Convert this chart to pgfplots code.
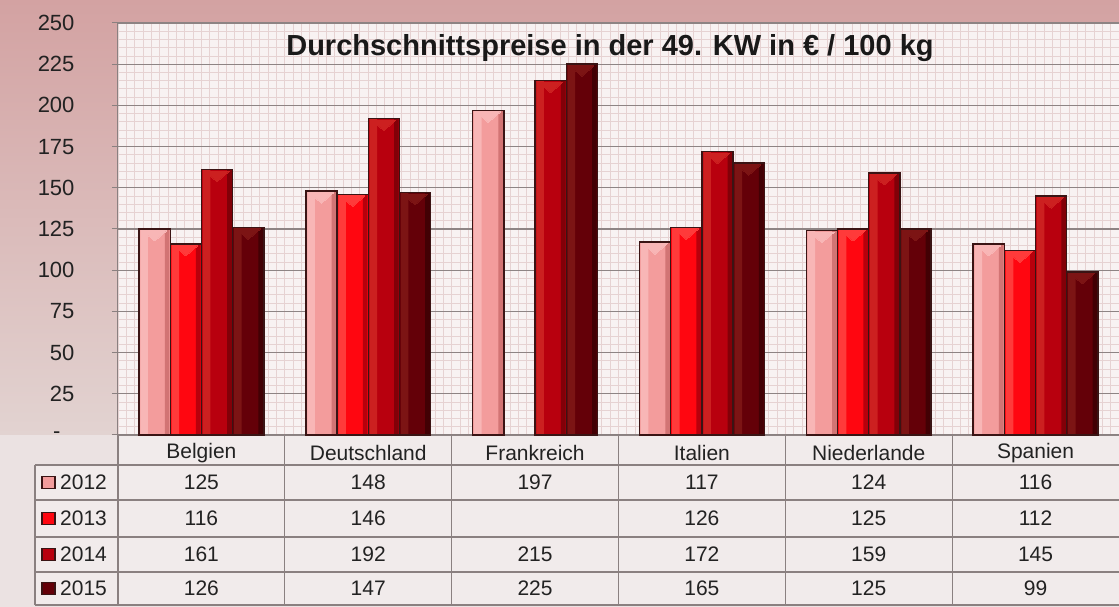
\documentclass[border=0pt]{standalone}
\usepackage{pgfplots}
\pgfplotsset{compat=1.18}
\usepackage{pgfplotstable}
\usepackage{fontspec}
\setmainfont{Liberation Sans}

\definecolor{bgtop}{HTML}{D3A2A2}
\definecolor{bgbot}{HTML}{E2D3D1}
\definecolor{lowbg}{HTML}{EBE2E2}
\definecolor{cellbg}{HTML}{F1EBEB}
\definecolor{plotbg}{HTML}{F8F2F2}
\definecolor{finegrid}{HTML}{E6D2D2}
\definecolor{gridmaj}{HTML}{8E8484}
\definecolor{axisgray}{HTML}{8A8080}
\definecolor{txt}{HTML}{222222}
\definecolor{outl}{HTML}{3A1414}
\definecolor{cA}{HTML}{F39C9C}
\definecolor{cAl}{HTML}{F8B6B6}
\definecolor{cAr}{HTML}{D27474}
\definecolor{cB}{HTML}{FF0610}
\definecolor{cBl}{HTML}{FF3A3A}
\definecolor{cBr}{HTML}{B8000C}
\definecolor{cC}{HTML}{B8000E}
\definecolor{cCl}{HTML}{CC2020}
\definecolor{cCr}{HTML}{820008}
\definecolor{cD}{HTML}{640008}
\definecolor{cDl}{HTML}{7C1414}
\definecolor{cDr}{HTML}{420004}

\newcommand\tabfont{\fontsize{21}{25}\selectfont}
\newcommand\tickfont{\fontsize{22}{26}\selectfont}

\pgfplotstableread{
x y12 y13 y14 y15
0 125 116 161 126
1 148 146 192 147
2 197 nan 215 225
3 117 126 172 165
4 124 125 159 125
5 116 112 145 99
}\datatable

\tikzset{
  tabline/.style={draw=axisgray, line width=1.2pt},
}

\begin{document}
\begin{tikzpicture}
\useasboundingbox (-118pt,-172pt) rectangle (1001pt,435pt);
% backgrounds
\shade[top color=bgtop, bottom color=bgbot] (-118pt,0pt) rectangle (1001pt,435pt);
\fill[lowbg] (-118pt,-172pt) rectangle (1001pt,0pt);
\fill[cellbg] (-83pt,-170pt) rectangle (1001pt,-30pt);
\fill[cellbg] (0pt,-30pt) rectangle (1001pt,0pt);
\fill[plotbg] (0pt,0pt) rectangle (1001pt,412pt);
\draw[finegrid, line width=0.9pt, xstep=8.342pt, ystep=8.24pt] (0pt,0pt) grid (1001pt,412pt);
% table lines
\foreach \yy in {-30,-65,-102,-137,-170} {\draw[tabline] (-83pt,\yy pt) -- (1001pt,\yy pt);}
\draw[tabline] (-83pt,-30pt) -- (-83pt,-170pt);
\foreach \k in {1,...,5} {\draw[tabline] (\k*166.833pt,0pt) -- (\k*166.833pt,-170pt);}
\draw[tabline] (0pt,0pt) -- (0pt,-170pt);
% legend in table
\foreach \c/\yr/\yy in {cA/2012/-47.5, cB/2013/-83.5, cC/2014/-119.5, cD/2015/-153.5} {
  \fill[\c, draw=outl, line width=1.2pt] (-76pt,\yy pt-6pt) rectangle (-63pt,\yy pt+6pt);
  \node[anchor=west, font=\tabfont, text=txt, inner sep=0pt] at (-58pt,\yy pt) {\yr};
}
\begin{axis}[
  at={(0pt,0pt)}, anchor=south west,
  scale only axis, width=1001pt, height=412pt,
  xmin=-0.5, xmax=5.5, ymin=0, ymax=250,
  clip=false,
  ytick={0,25,...,250},
  yticklabels={{-\kern14pt},25,50,75,100,125,150,175,200,225,250},
  yticklabel style={font=\tickfont, text=txt, anchor=east, xshift=-34pt},
  xtick={0,...,5},
  xticklabels={Belgien,Deutschland,Frankreich,Italien,Niederlande,Spanien},
  xticklabel style={font=\tabfont, text=txt, anchor=center, yshift=-12pt},
  xtick style={draw=none},
  ytick style={color=axisgray, line width=1pt},
  tick align=outside, major tick length=6pt,
  ymajorgrids, major grid style={color=gridmaj, line width=1.1pt},
  axis line style={color=axisgray, line width=1pt},
  axis x line*=bottom, axis y line*=left,
  /pgf/number format/assume math mode=true,
  bevel/.style={only marks, mark=triangle*, mark size=14pt,
    mark options={draw=#1, fill=#1, line width=0pt, yshift=-5pt, rotate=180, yscale=0.5}},
  body/.style={ybar, bar width=0.187, draw=none, fill=#1},
  strip/.style={ybar, draw=none, fill=#1},
  outline/.style={ybar, bar width=0.187, draw=outl, fill=none, line width=1.4pt},
]
% bar bodies
\addplot[body=cA, bar shift=-0.2805] table[x=x, y=y12] {\datatable};
\addplot[body=cB, bar shift=-0.0935] table[x=x, y=y13] {\datatable};
\addplot[body=cC, bar shift=0.0935] table[x=x, y=y14] {\datatable};
\addplot[body=cD, bar shift=0.2805] table[x=x, y=y15] {\datatable};
% light left strips
\addplot[strip=cAl, bar width=0.045, bar shift=-0.343] table[x=x, y=y12] {\datatable};
\addplot[strip=cBl, bar width=0.045, bar shift=-0.156] table[x=x, y=y13] {\datatable};
\addplot[strip=cCl, bar width=0.045, bar shift=0.031] table[x=x, y=y14] {\datatable};
\addplot[strip=cDl, bar width=0.045, bar shift=0.218] table[x=x, y=y15] {\datatable};
% dark right strips
\addplot[strip=cAr, bar width=0.028, bar shift=-0.2055] table[x=x, y=y12] {\datatable};
\addplot[strip=cBr, bar width=0.028, bar shift=-0.0185] table[x=x, y=y13] {\datatable};
\addplot[strip=cCr, bar width=0.028, bar shift=0.1685] table[x=x, y=y14] {\datatable};
\addplot[strip=cDr, bar width=0.028, bar shift=0.3555] table[x=x, y=y15] {\datatable};
% bevel highlights at the bar tops
\addplot[bevel=cAl] table[x expr=\thisrow{x}-0.2805, y=y12] {\datatable};
\addplot[bevel=cBl] table[x expr=\thisrow{x}-0.0935, y=y13] {\datatable};
\addplot[bevel=cCl] table[x expr=\thisrow{x}+0.0935, y=y14] {\datatable};
\addplot[bevel=cDl] table[x expr=\thisrow{x}+0.2805, y=y15] {\datatable};
% outlines
\addplot[outline, bar shift=-0.2805] table[x=x, y=y12] {\datatable};
\addplot[outline, bar shift=-0.0935] table[x=x, y=y13] {\datatable};
\addplot[outline, bar shift=0.0935] table[x=x, y=y14] {\datatable};
\addplot[outline, bar shift=0.2805] table[x=x, y=y15] {\datatable};
% data table rows
\pgfplotsset{tabrow/.style={draw=none, mark=none, point meta=explicit,
  nodes near coords={\pgfmathfloatifflags{\pgfplotspointmeta}{3}{}{\pgfmathprintnumber{\pgfplotspointmeta}}},
  nodes near coords style={anchor=center, font=\tabfont, text=txt, /pgf/number format/assume math mode=true}}}
\addplot[tabrow] table[x=x, y expr=-28.8, meta=y12] {\datatable};
\addplot[tabrow] table[x=x, y expr=-50.7, meta=y13] {\datatable};
\addplot[tabrow] table[x=x, y expr=-72.5, meta=y14] {\datatable};
\addplot[tabrow] table[x=x, y expr=-93.1, meta=y15] {\datatable};
\end{axis}
\node[font=\fontsize{29}{33}\selectfont\bfseries, text=black!90] at (492pt,387pt) {Durchschnittspreise in der 49. KW in € / 100 kg};
\end{tikzpicture}
\end{document}
